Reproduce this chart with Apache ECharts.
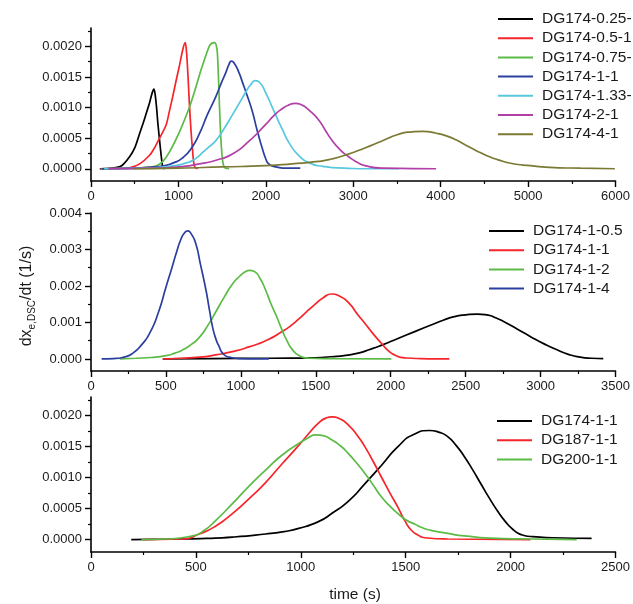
<!DOCTYPE html>
<html>
<head>
<meta charset="utf-8">
<script src="https://cdn.jsdelivr.net/npm/echarts@6.0.0/dist/echarts.min.js"></script>
<style>
html,body{margin:0;padding:0;background:#fff;}
#chart{width:633px;height:604px;}
</style>
</head>
<body>
<div id="chart"></div>
<script>
// ---------- Panel 1 (top): time (s) vs dx/dt ----------
const topNames = ['DG174-0.25-', 'DG174-0.5-1', 'DG174-0.75-', 'DG174-1-1', 'DG174-1.33-', 'DG174-2-1', 'DG174-4-1'];
const topBlack = [[100,0],[250,0.00001],[350,0.00005],[443,0.0002],[500,0.00034],[557,0.00058],[600,0.00076],[633,0.00091],[670,0.00108],[700,0.00124],[720,0.0013],[735,0.0012],[750,0.001],[765,0.00074],[784,0.00047],[800,0.00025],[815,0.00007],[825,0.00001],[840,0]];
const topRed = [[110,0],[300,0.000005],[450,0.00002],[557,0.00008],[670,0.00022],[730,0.00035],[784,0.0005],[860,0.00072],[898,0.00095],[935,0.00118],[975,0.00145],[1011,0.00168],[1050,0.00195],[1078,0.00206],[1093,0.0019],[1110,0.0015],[1125,0.00107],[1145,0.0006],[1163,0.00028],[1175,0.0001],[1190,0.00002],[1220,0]];
const topGreen = [[110,0],[400,0.000005],[600,0.00002],[750,0.00005],[822,0.00012],[900,0.00028],[1011,0.0006],[1125,0.001],[1201,0.00134],[1260,0.00162],[1314,0.00185],[1352,0.002],[1380,0.00205],[1410,0.00206],[1430,0.00203],[1445,0.0019],[1458,0.0015],[1470,0.001],[1485,0.0005],[1500,0.0002],[1515,0.00006],[1535,0.00001],[1580,0]];
const topBlue = [[120,0],[500,0.00001],[800,0.00004],[950,0.0001],[1049,0.00018],[1150,0.00034],[1239,0.00057],[1330,0.00088],[1428,0.00118],[1490,0.0014],[1542,0.00157],[1580,0.00171],[1606,0.00176],[1640,0.00172],[1690,0.00158],[1731,0.00142],[1790,0.00118],[1845,0.00094],[1900,0.00063],[1958,0.00034],[2000,0.00016],[2034,0.00008],[2110,0.00003],[2250,0.00001],[2394,0.00001]];
const topCyan = [[150,0],[600,0.00001],[900,0.00004],[1100,0.0001],[1201,0.00017],[1280,0.00027],[1352,0.00036],[1428,0.00046],[1520,0.00065],[1617,0.00088],[1700,0.00108],[1769,0.00125],[1830,0.00138],[1883,0.00144],[1930,0.00141],[1996,0.00125],[2090,0.00095],[2186,0.00065],[2280,0.00039],[2375,0.00022],[2489,0.0001],[2650,0.00004],[2900,0.00001],[3200,0],[3520,0]];
const topMagenta = [[200,0],[700,0.00001],[1000,0.00003],[1239,0.00008],[1430,0.00014],[1617,0.00024],[1807,0.00045],[1996,0.00072],[2100,0.00088],[2186,0.00098],[2260,0.00104],[2340,0.00107],[2400,0.00105],[2500,0.00095],[2602,0.0008],[2680,0.00063],[2754,0.00047],[2850,0.00031],[2943,0.0002],[3040,0.00011],[3133,0.00005],[3350,0.00001],[3947,0]];
const topOlive = [[480,0],[1000,0.00001],[1500,0.00003],[1996,0.00005],[2300,0.00008],[2602,0.00012],[2754,0.00016],[2943,0.00024],[3133,0.00034],[3322,0.00045],[3511,0.00056],[3650,0.0006],[3795,0.00061],[3950,0.00058],[4080,0.00053],[4180,0.00047],[4269,0.0004],[4360,0.00033],[4458,0.00026],[4550,0.0002],[4648,0.00015],[4800,0.00009],[5027,0.00005],[5300,0.00002],[5600,0.00001],[5992,0]];

// ---------- Panel 2 (middle) ----------
const midNames = ['DG174-1-0.5', 'DG174-1-1', 'DG174-1-2', 'DG174-1-4'];
const midBlack = [[479,0],[800,0.00001],[1200,0.00002],[1500,0.00003],[1600,0.00006],[1700,0.0001],[1783,0.00016],[1860,0.00026],[1940,0.00038],[2048,0.00056],[2160,0.00075],[2269,0.00093],[2350,0.00106],[2424,0.00116],[2500,0.00121],[2579,0.00123],[2650,0.0012],[2700,0.00113],[2756,0.00102],[2840,0.00083],[2933,0.00061],[3020,0.00042],[3109,0.00025],[3190,0.00012],[3264,0.00005],[3340,0.00002],[3418,0.00001]];
const midRed = [[479,0],[600,0.00002],[723,0.00005],[830,0.00011],[943,0.0002],[1054,0.00033],[1165,0.0005],[1275,0.00075],[1330,0.0009],[1385,0.00109],[1440,0.0013],[1496,0.0015],[1550,0.00168],[1606,0.00178],[1660,0.00172],[1717,0.00155],[1783,0.0012],[1827,0.00098],[1880,0.0007],[1938,0.00043],[1985,0.00022],[2026,0.00011],[2093,0.00003],[2200,0.00001],[2391,0]];
const midGreen = [[192,0],[300,0.00002],[400,0.00004],[501,0.00009],[560,0.00016],[612,0.00025],[670,0.0004],[723,0.00059],[780,0.00092],[834,0.0013],[890,0.0017],[943,0.00205],[990,0.00226],[1030,0.00239],[1059,0.00243],[1090,0.0024],[1130,0.00219],[1165,0.00189],[1200,0.00152],[1240,0.00115],[1275,0.00079],[1310,0.00048],[1341,0.00027],[1385,0.0001],[1450,0.00002],[1600,0.00001],[2004,0]];
const midBlue = [[71,0],[150,0.00001],[220,0.00005],[280,0.00016],[340,0.0004],[391,0.0007],[450,0.00128],[501,0.00198],[540,0.0025],[568,0.00289],[600,0.00328],[625,0.00346],[645,0.00351],[670,0.00342],[700,0.00315],[730,0.0026],[767,0.00189],[790,0.00135],[811,0.00088],[833,0.00055],[855,0.00034],[880,0.00015],[921,0.00005],[1000,0.00001],[1187,0]];

// ---------- Panel 3 (bottom) ----------
const botNames = ['DG174-1-1', 'DG187-1-1', 'DG200-1-1'];
const botBlack = [[192,0],[400,0.00001],[550,0.00002],[674,0.00004],[832,0.00009],[920,0.00013],[990,0.00018],[1084,0.00029],[1147,0.00042],[1230,0.00063],[1305,0.0009],[1385,0.0012],[1463,0.0015],[1540,0.0017],[1613,0.00176],[1660,0.00173],[1700,0.00166],[1740,0.00152],[1779,0.00134],[1820,0.00112],[1858,0.0009],[1900,0.00066],[1936,0.00047],[1975,0.00029],[2016,0.00015],[2050,0.00008],[2094,0.00005],[2200,0.00003],[2386,0.00002]];
const botRed = [[248,0],[437,0.00001],[516,0.00009],[595,0.00022],[674,0.00042],[750,0.00065],[832,0.00092],[910,0.00122],[990,0.00152],[1040,0.00172],[1084,0.00188],[1120,0.00196],[1147,0.00198],[1190,0.00194],[1226,0.00185],[1265,0.0017],[1305,0.0015],[1345,0.00126],[1384,0.00101],[1425,0.00075],[1463,0.00052],[1495,0.00031],[1527,0.00015],[1560,0.00007],[1590,0.00003],[1700,0.00001],[2094,0]];
const botGreen = [[240,0],[358,0.00001],[484,0.00006],[540,0.00015],[595,0.00031],[674,0.00058],[750,0.00085],[832,0.00112],[910,0.00136],[990,0.00155],[1040,0.00165],[1069,0.00169],[1100,0.00168],[1147,0.00161],[1190,0.00151],[1226,0.00139],[1265,0.00124],[1305,0.00107],[1345,0.00088],[1384,0.00069],[1425,0.00054],[1463,0.00042],[1500,0.00032],[1542,0.00025],[1580,0.00019],[1621,0.00015],[1700,0.0001],[1779,0.00006],[1936,0.00002],[2100,0.00001],[2315,0]];

// tick values
const yTicksA = [0, 0.0005, 0.001, 0.0015, 0.002];
const yMinorA = [0.00025, 0.00075, 0.00125, 0.00175, 0.00225];
const yTicksB = [0, 0.001, 0.002, 0.003, 0.004];
const yMinorB = [0.0005, 0.0015, 0.0025, 0.0035];

const C = {
  black: '#000000', red: '#f5252a', green: '#5cbb46', blue: '#2b3f9f',
  cyan: '#58c8de', magenta: '#b23ea8', olive: '#7b7a33'
};
const FONT = '"Liberation Sans", Arial, Helvetica, sans-serif';
const TXT = '#1a1a1a';

function mkSeries(name, data, color, idx, sm) {
  return {
    type: 'line', name: name, data: data, xAxisIndex: idx, yAxisIndex: idx * 2,
    showSymbol: false, symbol: 'none', smooth: sm, clip: true,
    lineStyle: { color: color, width: 1.7 }, itemStyle: { color: color },
    silent: true
  };
}

function mkX(gi, max, interval) {
  return {
    type: 'value', gridIndex: gi, min: 0, max: max, interval: interval,
    axisLine: { show: true, onZero: false, lineStyle: { color: '#000', width: 1.6 } },
    axisTick: { show: true, length: 6, lineStyle: { color: '#000', width: 1.4 } },
    minorTick: { show: true, splitNumber: 2, length: 3, lineStyle: { color: '#000', width: 1.2 } },
    splitLine: { show: false }, minorSplitLine: { show: false },
    axisLabel: { color: TXT, fontSize: 13, fontFamily: FONT, margin: 9,
      formatter: function (v) { return String(Math.round(v)); } }
  };
}

function mkY(gi, min, max, ticks, minor, dec) {
  return [{
    type: 'value', gridIndex: gi, min: min, max: max,
    axisLine: { show: true, onZero: false, lineStyle: { color: '#000', width: 1.6 } },
    axisTick: { show: true, length: 6, customValues: ticks, lineStyle: { color: '#000', width: 1.4 } },
    splitLine: { show: false },
    axisLabel: { color: TXT, fontSize: 13, fontFamily: FONT, margin: 9, customValues: ticks,
      formatter: function (v) { return Math.abs(v) < 1e-12 ? (0).toFixed(dec) : v.toFixed(dec); } }
  }, {
    type: 'value', gridIndex: gi, min: min, max: max, position: 'left',
    axisLine: { show: false },
    axisTick: { show: true, length: 3, customValues: minor, lineStyle: { color: '#000', width: 1.2 } },
    splitLine: { show: false },
    axisLabel: { show: false }
  }];
}

function mkLegend(names, colors, left, top) {
  return {
    left: left, top: top, orient: 'vertical', selectedMode: false, padding: 0,
    icon: 'rect', itemWidth: 35, itemHeight: 2, itemGap: 3.2,
    textStyle: { color: TXT, fontSize: 15.5, fontFamily: FONT, lineHeight: 16, padding: [0, 0, 0, 4] },
    data: names.map(function (n, i) { return { name: n, itemStyle: { color: colors[i] } }; })
  };
}

const topColors = [C.black, C.red, C.green, C.blue, C.cyan, C.magenta, C.olive];
const midColors = [C.black, C.red, C.green, C.blue];
const botColors = [C.black, C.red, C.green];
const topSmooth = [0.3, 0.3, 0.3, 0.6, 0.6, 0.6, 0.6];

const series = [];
[topBlack, topRed, topGreen, topBlue, topCyan, topMagenta, topOlive].forEach(function (d, i) {
  series.push(mkSeries(topNames[i], d, topColors[i], 0, topSmooth[i]));
});
[midBlack, midRed, midGreen, midBlue].forEach(function (d, i) {
  series.push(mkSeries(midNames[i], d, midColors[i], 1, 0.6));
});
[botBlack, botRed, botGreen].forEach(function (d, i) {
  series.push(mkSeries(botNames[i], d, botColors[i], 2, 0.6));
});

const option = {
  animation: false,
  backgroundColor: '#ffffff',
  grid: [
    { left: 91, top: 28, width: 528, height: 153 },
    { left: 91, top: 213, width: 528, height: 158 },
    { left: 91, top: 397, width: 528, height: 155 }
  ],
  xAxis: [mkX(0, 6000, 1000), mkX(1, 3500, 500), mkX(2, 2500, 500)],
  yAxis: [].concat(
    mkY(0, -0.0002, 0.0023, yTicksA, yMinorA, 4),
    mkY(1, -0.00033, 0.004, yTicksB, yMinorB, 3),
    mkY(2, -0.0002, 0.0023, yTicksA, yMinorA, 4)
  ),
  legend: [
    mkLegend(topNames, topColors, 498, 11),
    mkLegend(midNames, midColors, 489, 223),
    mkLegend(botNames, botColors, 497, 413)
  ],
  graphic: [
    { type: 'text', x: 27, y: 296, rotation: Math.PI / 2,
      style: { text: '{a|dx}{b|e,DSC}{a|/dt (1/s)}', align: 'center', verticalAlign: 'middle',
        fill: TXT, fontFamily: FONT,
        rich: { a: { fontSize: 16, fontFamily: FONT, fill: TXT, lineHeight: 20, verticalAlign: 'middle' },
                b: { fontSize: 10, fontFamily: FONT, fill: TXT, lineHeight: 20, verticalAlign: 'bottom', padding: [8, 0, 0, 0] } } } },
    { type: 'text', x: 355, y: 595,
      style: { text: 'time (s)', align: 'center', verticalAlign: 'middle', fontSize: 15.5, fontFamily: FONT, fill: TXT } }
  ],
  series: series
};

const chart = echarts.init(document.getElementById('chart'), null, { renderer: 'canvas' });
chart.setOption(option);
</script>
</body>
</html>
